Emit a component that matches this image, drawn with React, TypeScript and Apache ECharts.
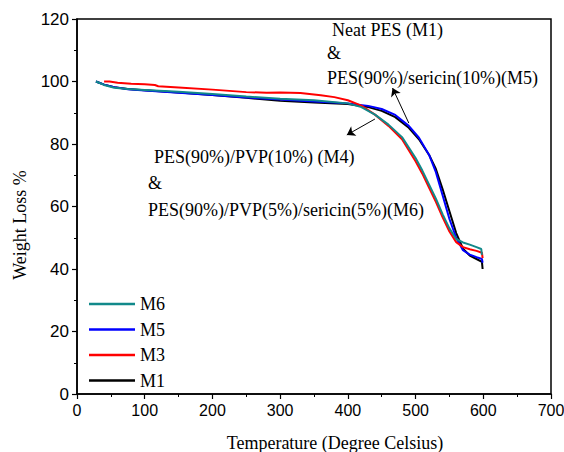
import React, { useEffect, useRef } from "react";
import * as echarts from "echarts";

const m1Temps = [28, 40, 55, 75, 100, 150, 200, 250, 300, 350, 400, 430, 450, 470, 490, 505, 520, 530, 540, 550, 560, 570, 580, 590, 598, 599];
const m1Values = [100, 99, 98.2, 97.6, 97.2, 96.5, 95.7, 94.8, 93.8, 93.3, 92.8, 91.8, 90.6, 88.6, 85.2, 81.5, 76.5, 72, 65.5, 58.5, 51.5, 46.5, 44.3, 43.2, 42.3, 40];

const m5Temps = [28, 40, 55, 75, 100, 150, 200, 250, 300, 350, 400, 430, 450, 470, 490, 505, 520, 530, 540, 550, 560, 570, 580, 590, 598, 599];
const m5Values = [100, 99, 98.2, 97.5, 97.1, 96.4, 95.7, 94.9, 94.2, 93.6, 93, 92.2, 91.2, 89.3, 85.8, 82, 76.5, 71, 63.5, 56, 50, 46, 44.6, 43.8, 43.2, 42];

const m3Temps = [40, 48, 60, 80, 100, 115, 120, 150, 200, 250, 280, 300, 330, 360, 380, 400, 420, 440, 460, 480, 500, 510, 520, 530, 540, 550, 560, 570, 580, 590, 598, 599];
const m3Values = [100, 100, 99.6, 99.3, 99.1, 98.9, 98.5, 98.1, 97.4, 96.6, 96.4, 96.5, 96.3, 95.6, 95, 94, 92.3, 89.4, 85.8, 81.5, 74.5, 70.5, 66, 61.5, 56.5, 52, 48.6, 47, 46.3, 45.8, 45.2, 43.5];

const m6Temps = [28, 40, 55, 75, 100, 150, 200, 250, 300, 350, 400, 420, 440, 460, 480, 500, 510, 520, 530, 540, 550, 560, 570, 580, 590, 597, 598];
const m6Values = [100, 98.9, 98, 97.6, 97.3, 96.7, 96, 95.2, 94.5, 94, 93, 91.8, 89.4, 86.2, 82.2, 75.5, 71.5, 67, 62.5, 57.5, 53, 49.6, 48.5, 47.8, 47, 46.4, 44.5];

const legendOrder = ["M6", "M5", "M3", "M1"];

const annotationTop = ["Neat PES (M1)", "&", "PES(90%)/sericin(10%)(M5)"];
const annotationMid = ["PES(90%)/PVP(10%) (M4)", "&", "PES(90%)/PVP(5%)/sericin(5%)(M6)"];

const xTitle = "Temperature (Degree Celsius)";
const yTitle = "Weight Loss %";

const zip = (t: number[], v: number[]) => t.map((x, i) => [x, v[i]]);

const SERIF = "Liberation Serif";
const SANS = "Liberation Sans";

export default function App() {
  const ref = useRef<HTMLDivElement>(null);
  useEffect(() => {
    if (!ref.current) return;
    const chart = echarts.init(ref.current, null, { renderer: "svg" });
    const lineSeries = (name: string, color: string, data: number[][], extra: any = {}) => ({
      name,
      type: "line",
      data,
      showSymbol: false,
      symbol: "none",
      smooth: false,
      lineStyle: { color, width: 2 },
      itemStyle: { color },
      ...extra,
    });
    const t = (text: string, x: number, y: number, extra: any = {}) => ({
      type: "text",
      x,
      y,
      silent: true,
      ...extra,
      style: {
        text,
        fontSize: 18,
        fontFamily: SERIF,
        fill: "#000",
        align: "left",
        verticalAlign: "middle",
        ...(extra.style || {}),
      },
    });
    chart.setOption({
      animation: false,
      grid: {
        left: 77,
        right: 13,
        top: 19,
        bottom: 58,
        show: true,
        borderColor: "#000",
        borderWidth: 1.5,
        containLabel: false,
        outerBoundsMode: "none",
      },
      xAxis: {
        type: "value",
        min: 0,
        max: 700,
        interval: 100,
        axisLine: { show: true, lineStyle: { color: "#000", width: 1.5 } },
        axisTick: { show: true, inside: false, length: 5, lineStyle: { color: "#000", width: 1.2 } },
        minorTick: { show: true, splitNumber: 2, length: 3, lineStyle: { color: "#000", width: 1 } },
        splitLine: { show: false },
        axisLabel: { color: "#000", fontSize: 16, fontFamily: SANS, margin: 8 },
      },
      yAxis: {
        type: "value",
        min: 0,
        max: 120,
        interval: 20,
        axisLine: { show: true, lineStyle: { color: "#000", width: 1.5 } },
        axisTick: { show: true, inside: false, length: 5, lineStyle: { color: "#000", width: 1.2 } },
        minorTick: { show: true, splitNumber: 2, length: 3, lineStyle: { color: "#000", width: 1 } },
        splitLine: { show: false },
        axisLabel: { color: "#000", fontSize: 17, fontFamily: SANS, margin: 8 },
      },
      legend: {
        data: legendOrder,
        orient: "vertical",
        left: 84,
        top: 290,
        icon: "rect",
        itemWidth: 46,
        itemHeight: 2.5,
        itemGap: 7.5,
        textStyle: { fontSize: 18, fontFamily: SERIF, color: "#000" },
      },
      series: [
        lineSeries("M1", "#000000", zip(m1Temps, m1Values), {
          markLine: {
            silent: true,
            symbol: ["none", "arrow"],
            symbolSize: 8,
            label: { show: false },
            lineStyle: { color: "#000", width: 1, type: "solid" },
            data: [
              [{ coord: [490, 86.7] }, { coord: [466, 97.9] }],
              [{ coord: [440, 88] }, { coord: [398.5, 82.9] }],
            ],
          },
        }),
        lineSeries("M5", "#0000ff", zip(m5Temps, m5Values)),
        lineSeries("M3", "#ff0000", zip(m3Temps, m3Values)),
        lineSeries("M6", "#11898a", zip(m6Temps, m6Values)),
      ],
      graphic: [
        t(annotationTop[0], 332, 30),
        t(annotationTop[1], 327, 53),
        t(annotationTop[2], 327, 78),
        t(annotationMid[0], 154, 157),
        t(annotationMid[1], 148, 183),
        t(annotationMid[2], 148, 210),
        t(xTitle, 335, 443, { style: { align: "center" } }),
        t(yTitle, 20, 225, { rotation: Math.PI / 2, style: { align: "center" } }),
      ],
    });
    return () => chart.dispose();
  }, []);
  return (
    <div
      ref={ref}
      style={{ position: "absolute", left: 0, top: 0, width: 564, height: 452, background: "#fff" }}
    />
  );
}
